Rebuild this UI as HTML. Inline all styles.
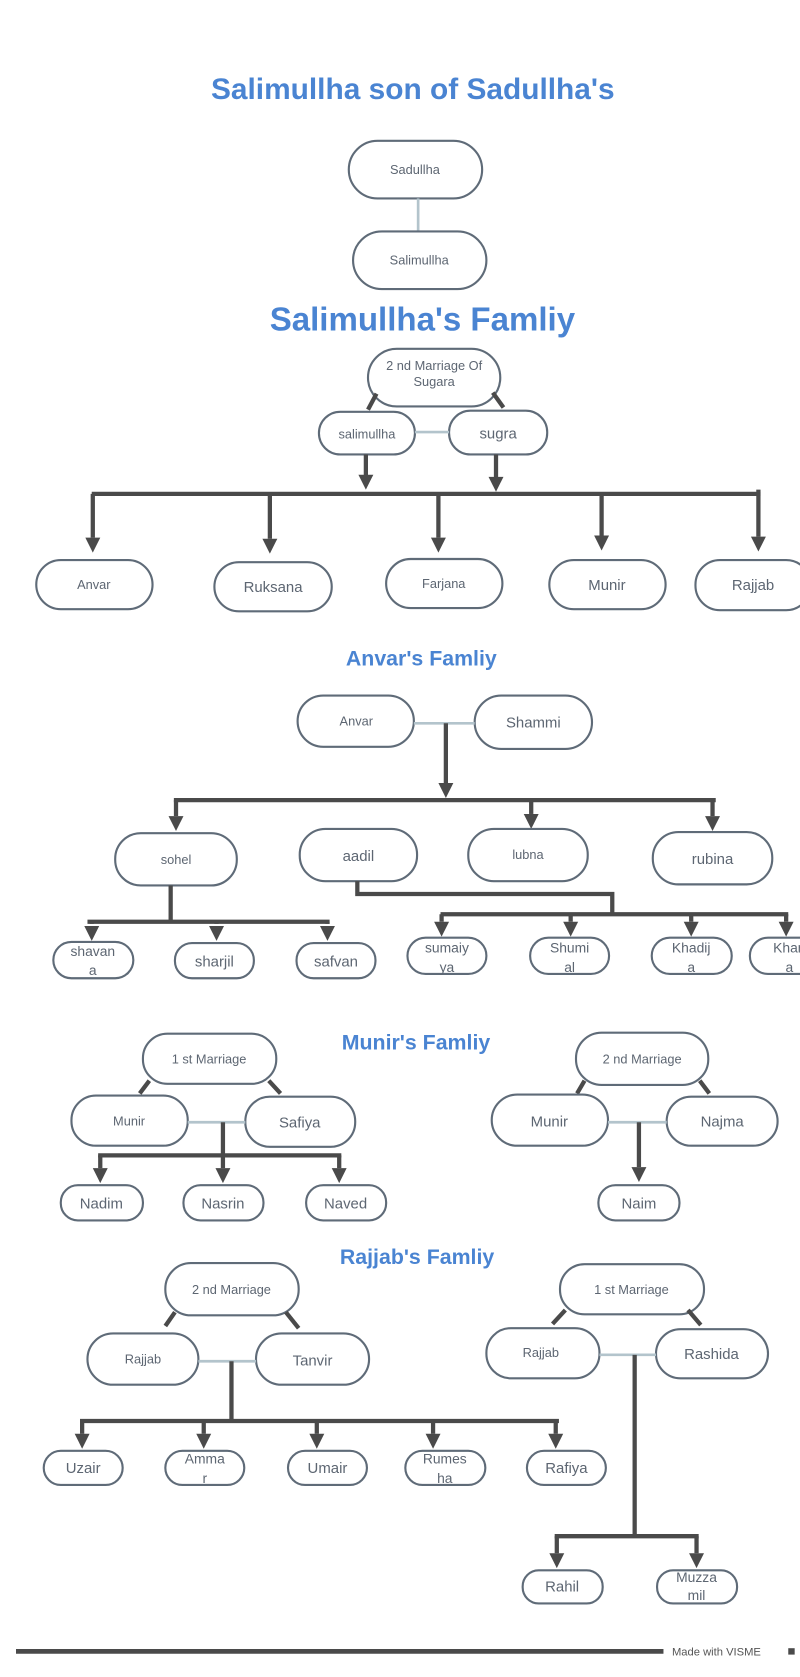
<!DOCTYPE html>
<html><head><meta charset="utf-8"><style>
html,body{margin:0;padding:0;background:#fff;}
svg{display:block;}
.b{fill:#fff;stroke:#5f6b78;stroke-width:2;}
.t{font-family:"Liberation Sans",sans-serif;fill:#5d6672;text-anchor:middle;}
.h{font-family:"Liberation Sans",sans-serif;fill:#4a84d2;font-weight:bold;text-anchor:middle;}
.k{stroke:#4a4a4a;stroke-width:4;fill:none;}
.l{stroke:#b3c4cc;stroke-width:2.5;fill:none;}
</style></head><body>
<svg width="800" height="1677" viewBox="0 0 750 1572" preserveAspectRatio="none" xmlns="http://www.w3.org/2000/svg">
<defs>
<marker id="a" markerUnits="userSpaceOnUse" markerWidth="16" markerHeight="16" refX="8" refY="14" orient="auto-start-reverse" viewBox="0 0 16 16">
</marker>
</defs>
<!-- arrowheads drawn as polygons via symbol -->
<defs><symbol id="ah" overflow="visible"><polygon points="-7,-14 7,-14 0,0" fill="#4a4a4a"/></symbol></defs>

<text class="h" x="387" y="93" font-size="28">Salimullha son of Sadullha's</text>
<rect class="b" x="327" y="132" width="125" height="54" rx="27"/>
<text class="t" x="389" y="163" font-size="12">Sadullha</text>
<line class="l" x1="392" y1="186" x2="392" y2="217"/>
<rect class="b" x="331" y="217" width="125" height="54" rx="27"/>
<text class="t" x="393" y="248" font-size="12">Salimullha</text>

<text class="h" x="396" y="310" font-size="31">Salimullha's Famliy</text>
<rect class="b" x="345" y="327" width="124" height="54" rx="27"/>
<text class="t" x="407" y="347" font-size="12">2 nd Marriage Of</text>
<text class="t" x="407" y="362" font-size="12">Sugara</text>
<line class="k" x1="353" y1="369" x2="345" y2="384"/>
<line class="k" x1="462" y1="368" x2="472" y2="382"/>
<rect class="b" x="299" y="386" width="90" height="40" rx="20"/>
<text class="t" x="344" y="411" font-size="12">salimullha</text>
<rect class="b" x="421" y="385" width="92" height="41" rx="20"/>
<text class="t" x="467" y="411" font-size="14">sugra</text>
<line class="l" x1="389" y1="405" x2="421" y2="405"/>
<line class="k" x1="343" y1="426" x2="343" y2="446"/><use href="#ah" x="343" y="459"/>
<line class="k" x1="465" y1="426" x2="465" y2="448"/><use href="#ah" x="465" y="461"/>
<line class="k" x1="86" y1="463" x2="713" y2="463"/>
<line class="k" x1="711" y1="459" x2="711" y2="503"/><use href="#ah" x="711" y="517"/>
<line class="k" x1="87" y1="463" x2="87" y2="504"/><use href="#ah" x="87" y="518"/>
<line class="k" x1="253" y1="463" x2="253" y2="505"/><use href="#ah" x="253" y="519"/>
<line class="k" x1="411" y1="463" x2="411" y2="504"/><use href="#ah" x="411" y="518"/>
<line class="k" x1="564" y1="463" x2="564" y2="502"/><use href="#ah" x="564" y="516"/>
<rect class="b" x="34" y="525" width="109" height="46" rx="23"/><text class="t" x="88" y="552" font-size="12">Anvar</text>
<rect class="b" x="201" y="527" width="110" height="46" rx="23"/><text class="t" x="256" y="555" font-size="14">Ruksana</text>
<rect class="b" x="362" y="524" width="109" height="46" rx="23"/><text class="t" x="416" y="551" font-size="12">Farjana</text>
<rect class="b" x="515" y="525" width="109" height="46" rx="23"/><text class="t" x="569" y="553" font-size="14">Munir</text>
<rect class="b" x="652" y="525" width="108" height="47" rx="23"/><text class="t" x="706" y="553" font-size="14">Rajjab</text>

<text class="h" x="395" y="624" font-size="20">Anvar's Famliy</text>
<rect class="b" x="279" y="652" width="109" height="48" rx="24"/><text class="t" x="334" y="680" font-size="12">Anvar</text>
<rect class="b" x="445" y="652" width="110" height="50" rx="25"/><text class="t" x="500" y="682" font-size="14">Shammi</text>
<line class="l" x1="388" y1="678" x2="445" y2="678"/>
<line class="k" x1="418" y1="678" x2="418" y2="734"/><use href="#ah" x="418" y="748"/>
<line class="k" x1="163" y1="750" x2="671" y2="750"/>
<line class="k" x1="165" y1="750" x2="165" y2="765"/><use href="#ah" x="165" y="779"/>
<line class="k" x1="498" y1="750" x2="498" y2="763"/><use href="#ah" x="498" y="777"/>
<line class="k" x1="668" y1="750" x2="668" y2="765"/><use href="#ah" x="668" y="779"/>
<rect class="b" x="108" y="781" width="114" height="49" rx="24"/><text class="t" x="165" y="810" font-size="12">sohel</text>
<rect class="b" x="281" y="777" width="110" height="49" rx="24"/><text class="t" x="336" y="807" font-size="14">aadil</text>
<rect class="b" x="439" y="777" width="112" height="49" rx="24"/><text class="t" x="495" y="805" font-size="12">lubna</text>
<rect class="b" x="612" y="780" width="112" height="49" rx="24"/><text class="t" x="668" y="810" font-size="14">rubina</text>
<polyline class="k" points="160,830 160,864"/>
<line class="k" x1="82" y1="864" x2="309" y2="864"/>
<line class="k" x1="86" y1="864" x2="86" y2="866"/><use href="#ah" x="86" y="882"/>
<line class="k" x1="203" y1="864" x2="203" y2="866"/><use href="#ah" x="203" y="882"/>
<line class="k" x1="307" y1="864" x2="307" y2="866"/><use href="#ah" x="307" y="882"/>
<rect class="b" x="50" y="883" width="75" height="34" rx="17"/><text class="t" x="87" y="896" font-size="13">shavan</text><text class="t" x="87" y="914" font-size="13">a</text>
<rect class="b" x="164" y="884" width="74" height="33" rx="16"/><text class="t" x="201" y="906" font-size="14">sharjil</text>
<rect class="b" x="278" y="884" width="74" height="33" rx="16"/><text class="t" x="315" y="906" font-size="14">safvan</text>
<polyline class="k" points="335,826 335,838 574,838 574,857"/>
<line class="k" x1="413" y1="857" x2="739" y2="857"/>
<line class="k" x1="414" y1="857" x2="414" y2="864"/><use href="#ah" x="414" y="878"/>
<line class="k" x1="535" y1="857" x2="535" y2="864"/><use href="#ah" x="535" y="878"/>
<line class="k" x1="648" y1="857" x2="648" y2="864"/><use href="#ah" x="648" y="878"/>
<line class="k" x1="737" y1="857" x2="737" y2="864"/><use href="#ah" x="737" y="878"/>
<rect class="b" x="382" y="879" width="74" height="34" rx="17"/><text class="t" x="419" y="893" font-size="13">sumaiy</text><text class="t" x="419" y="911" font-size="13">ya</text>
<rect class="b" x="497" y="879" width="74" height="34" rx="17"/><text class="t" x="534" y="893" font-size="13">Shumi</text><text class="t" x="534" y="911" font-size="13">al</text>
<rect class="b" x="611" y="879" width="75" height="34" rx="17"/><text class="t" x="648" y="893" font-size="13">Khadij</text><text class="t" x="648" y="911" font-size="13">a</text>
<rect class="b" x="703" y="879" width="74" height="34" rx="17"/><text class="t" x="740" y="893" font-size="13">Khan</text><text class="t" x="740" y="911" font-size="13">a</text>

<text class="h" x="390" y="984" font-size="20">Munir's Famliy</text>
<rect class="b" x="134" y="969" width="125" height="47" rx="23"/><text class="t" x="196" y="997" font-size="12">1 st Marriage</text>
<line class="k" x1="140" y1="1013" x2="131" y2="1025"/><line class="k" x1="252" y1="1013" x2="263" y2="1025"/>
<rect class="b" x="67" y="1027" width="109" height="47" rx="23"/><text class="t" x="121" y="1055" font-size="12">Munir</text>
<rect class="b" x="230" y="1028" width="103" height="47" rx="23"/><text class="t" x="281" y="1057" font-size="14">Safiya</text>
<line class="l" x1="176" y1="1052" x2="230" y2="1052"/>
<line class="k" x1="209" y1="1052" x2="209" y2="1083"/>
<line class="k" x1="92" y1="1083" x2="320" y2="1083"/>
<line class="k" x1="94" y1="1083" x2="94" y2="1095"/><use href="#ah" x="94" y="1109"/>
<line class="k" x1="209" y1="1083" x2="209" y2="1095"/><use href="#ah" x="209" y="1109"/>
<line class="k" x1="318" y1="1083" x2="318" y2="1095"/><use href="#ah" x="318" y="1109"/>
<rect class="b" x="57" y="1111" width="77" height="33" rx="16"/><text class="t" x="95" y="1133" font-size="14">Nadim</text>
<rect class="b" x="172" y="1111" width="75" height="33" rx="16"/><text class="t" x="209" y="1133" font-size="14">Nasrin</text>
<rect class="b" x="287" y="1111" width="75" height="33" rx="16"/><text class="t" x="324" y="1133" font-size="14">Naved</text>
<rect class="b" x="540" y="968" width="124" height="49" rx="24"/><text class="t" x="602" y="997" font-size="12">2 nd Marriage</text>
<line class="k" x1="548" y1="1013" x2="541" y2="1025"/><line class="k" x1="656" y1="1013" x2="665" y2="1025"/>
<rect class="b" x="461" y="1026" width="109" height="48" rx="24"/><text class="t" x="515" y="1056" font-size="14">Munir</text>
<rect class="b" x="625" y="1028" width="104" height="46" rx="23"/><text class="t" x="677" y="1056" font-size="14">Najma</text>
<line class="l" x1="570" y1="1052" x2="625" y2="1052"/>
<line class="k" x1="599" y1="1052" x2="599" y2="1094"/><use href="#ah" x="599" y="1108"/>
<rect class="b" x="561" y="1111" width="76" height="33" rx="16"/><text class="t" x="599" y="1133" font-size="14">Naim</text>

<text class="h" x="391" y="1185" font-size="20">Rajjab's Famliy</text>
<rect class="b" x="155" y="1184" width="125" height="49" rx="24"/><text class="t" x="217" y="1213" font-size="12">2 nd Marriage</text>
<line class="k" x1="164" y1="1230" x2="155" y2="1243"/><line class="k" x1="268" y1="1230" x2="280" y2="1245"/>
<rect class="b" x="82" y="1250" width="104" height="48" rx="24"/><text class="t" x="134" y="1278" font-size="12">Rajjab</text>
<rect class="b" x="240" y="1250" width="106" height="48" rx="24"/><text class="t" x="293" y="1280" font-size="14">Tanvir</text>
<line class="l" x1="186" y1="1276" x2="240" y2="1276"/>
<line class="k" x1="217" y1="1276" x2="217" y2="1332"/>
<line class="k" x1="75" y1="1332" x2="524" y2="1332"/>
<line class="k" x1="77" y1="1332" x2="77" y2="1344"/><use href="#ah" x="77" y="1358"/>
<line class="k" x1="191" y1="1332" x2="191" y2="1344"/><use href="#ah" x="191" y="1358"/>
<line class="k" x1="297" y1="1332" x2="297" y2="1344"/><use href="#ah" x="297" y="1358"/>
<line class="k" x1="406" y1="1332" x2="406" y2="1344"/><use href="#ah" x="406" y="1358"/>
<line class="k" x1="521" y1="1332" x2="521" y2="1344"/><use href="#ah" x="521" y="1358"/>
<rect class="b" x="41" y="1360" width="74" height="32" rx="16"/><text class="t" x="78" y="1381" font-size="14">Uzair</text>
<rect class="b" x="155" y="1360" width="74" height="32" rx="16"/><text class="t" x="192" y="1372" font-size="13">Amma</text><text class="t" x="192" y="1390" font-size="13">r</text>
<rect class="b" x="270" y="1360" width="74" height="32" rx="16"/><text class="t" x="307" y="1381" font-size="14">Umair</text>
<rect class="b" x="380" y="1360" width="75" height="32" rx="16"/><text class="t" x="417" y="1372" font-size="13">Rumes</text><text class="t" x="417" y="1390" font-size="13">ha</text>
<rect class="b" x="494" y="1360" width="74" height="32" rx="16"/><text class="t" x="531" y="1381" font-size="14">Rafiya</text>
<rect class="b" x="525" y="1185" width="135" height="47" rx="23"/><text class="t" x="592" y="1213" font-size="12">1 st Marriage</text>
<line class="k" x1="530" y1="1228" x2="518" y2="1241"/><line class="k" x1="645" y1="1228" x2="657" y2="1242"/>
<rect class="b" x="456" y="1245" width="106" height="47" rx="23"/><text class="t" x="507" y="1272" font-size="12">Rajjab</text>
<rect class="b" x="615" y="1246" width="105" height="46" rx="23"/><text class="t" x="667" y="1274" font-size="14">Rashida</text>
<line class="l" x1="562" y1="1270" x2="615" y2="1270"/>
<line class="k" x1="595" y1="1270" x2="595" y2="1440"/>
<line class="k" x1="520" y1="1440" x2="655" y2="1440"/>
<line class="k" x1="522" y1="1440" x2="522" y2="1456"/><use href="#ah" x="522" y="1470"/>
<line class="k" x1="653" y1="1440" x2="653" y2="1456"/><use href="#ah" x="653" y="1470"/>
<rect class="b" x="490" y="1472" width="75" height="31" rx="15"/><text class="t" x="527" y="1492" font-size="14">Rahil</text>
<rect class="b" x="616" y="1472" width="75" height="31" rx="15"/><text class="t" x="653" y="1483" font-size="13">Muzza</text><text class="t" x="653" y="1500" font-size="13">mil</text>

<line x1="15" y1="1548" x2="622" y2="1548" stroke="#4a4a4a" stroke-width="4.5"/>
<text x="630" y="1552" font-family="Liberation Sans,sans-serif" font-size="10.5" fill="#555">Made with VISME</text>
<rect x="739" y="1545" width="6" height="6" fill="#4a4a4a"/>
</svg>
</body></html>
